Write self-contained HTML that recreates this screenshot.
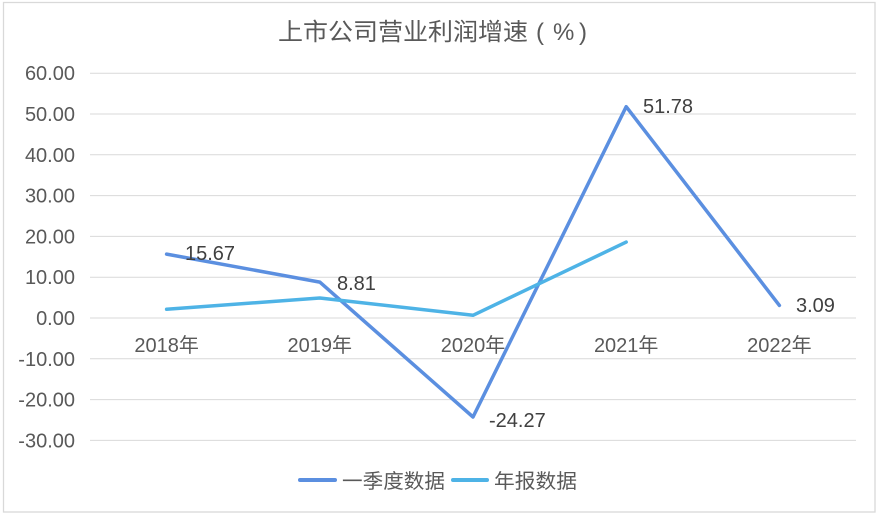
<!DOCTYPE html>
<html><head><meta charset="utf-8"><style>
html,body{margin:0;padding:0;background:#fff;}
svg{display:block;}
</style></head><body>
<svg width="878" height="515" viewBox="0 0 878 515" xmlns="http://www.w3.org/2000/svg">
<rect x="0" y="0" width="878" height="515" fill="#fff"/>
<rect x="3.5" y="2.5" width="871.5" height="509.5" fill="none" stroke="#d9d9d9" stroke-width="1.3"/>
<g font-family="'Liberation Sans','Noto Sans CJK SC',sans-serif" fill="#595959">
<text x="278" y="40" font-size="24" textLength="250" lengthAdjust="spacingAndGlyphs">上市公司营业利润增速</text>
<text x="536" y="40" font-size="24">(</text>
<text x="553" y="40" font-size="24">%</text>
<text x="579" y="40" font-size="24">)</text>
</g>
<g stroke="#d9d9d9" stroke-width="1">
<line x1="90" x2="856" y1="73.2" y2="73.2"/>
<line x1="90" x2="856" y1="114" y2="114"/>
<line x1="90" x2="856" y1="154.8" y2="154.8"/>
<line x1="90" x2="856" y1="195.6" y2="195.6"/>
<line x1="90" x2="856" y1="236.4" y2="236.4"/>
<line x1="90" x2="856" y1="277.2" y2="277.2"/>
<line x1="90" x2="856" y1="318" y2="318"/>
<line x1="90" x2="856" y1="358.8" y2="358.8"/>
<line x1="90" x2="856" y1="399.6" y2="399.6"/>
<line x1="90" x2="856" y1="440.4" y2="440.4"/>
</g>
<g font-family="'Liberation Sans',sans-serif" font-size="20" fill="#595959" text-anchor="end">
<text x="75" y="80.2">60.00</text>
<text x="75" y="121">50.00</text>
<text x="75" y="161.8">40.00</text>
<text x="75" y="202.6">30.00</text>
<text x="75" y="243.4">20.00</text>
<text x="75" y="284.2">10.00</text>
<text x="75" y="325">0.00</text>
<text x="75" y="365.8">-10.00</text>
<text x="75" y="406.6">-20.00</text>
<text x="75" y="447.4">-30.00</text>
</g>
<g font-family="'Liberation Sans','Noto Sans CJK SC',sans-serif" font-size="20" fill="#595959" text-anchor="middle">
<text x="166.6" y="352">2018年</text>
<text x="319.8" y="352">2019年</text>
<text x="473" y="352">2020年</text>
<text x="626.2" y="352">2021年</text>
<text x="779.4" y="352">2022年</text>
</g>
<polyline points="166.6,254.1 319.8,282.1 473,417 626.2,106.7 779.4,305.4" fill="none" stroke="#5b8fe0" stroke-width="3.5" stroke-linejoin="round" stroke-linecap="round"/>
<polyline points="166.6,309.3 319.8,298 473,315.3 626.2,242.1" fill="none" stroke="#4eb3e6" stroke-width="3.5" stroke-linejoin="round" stroke-linecap="round"/>
<g font-family="'Liberation Sans',sans-serif" font-size="20" fill="#404040">
<text x="185" y="260">15.67</text>
<text x="337" y="290">8.81</text>
<text x="489" y="427">-24.27</text>
<text x="643" y="113">51.78</text>
<text x="796" y="312">3.09</text>
</g>
<line x1="300" y1="480" x2="335" y2="480" stroke="#5b8fe0" stroke-width="4" stroke-linecap="round"/>
<line x1="453" y1="480" x2="487" y2="480" stroke="#4eb3e6" stroke-width="4" stroke-linecap="round"/>
<g font-family="'Liberation Sans','Noto Sans CJK SC',sans-serif" font-size="20" fill="#595959">
<text x="342" y="488" textLength="103" lengthAdjust="spacingAndGlyphs">一季度数据</text>
<text x="494" y="488" textLength="83" lengthAdjust="spacingAndGlyphs">年报数据</text>
</g>
</svg>
</body></html>
